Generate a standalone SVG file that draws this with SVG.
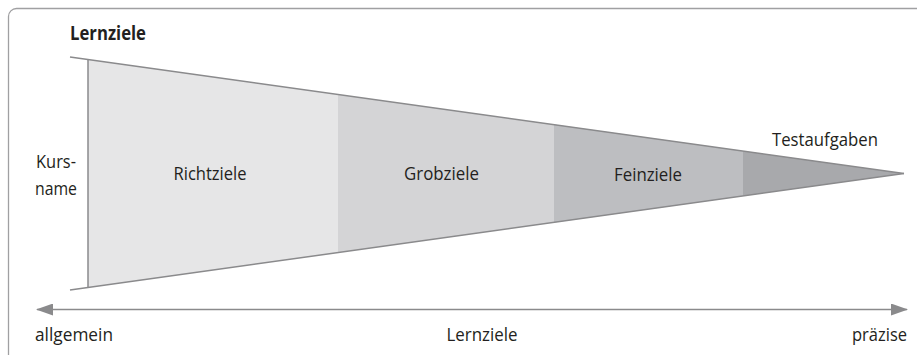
<svg xmlns="http://www.w3.org/2000/svg" width="917" height="355" viewBox="0 0 917 355">
  <style>
    .lbl { font-family: "Open Sans", "Liberation Sans", sans-serif; font-size: 19px; fill: #231f20; }
    .bold { font-weight: bold; }
    .edge { fill: none; stroke: #8a8a8c; stroke-width: 1.5; }
    .frame { fill: none; stroke: #a0a0a2; stroke-width: 1.3; }
  </style>
  <defs>
    <marker id="head" viewBox="0 0 17 12" refX="16" refY="6" markerWidth="17" markerHeight="12" markerUnits="userSpaceOnUse" orient="auto-start-reverse">
      <path d="M0,0 L17,6 L0,12 Z" fill="#8a8a8c"/>
    </marker>
  </defs>

  <rect width="917" height="355" fill="#ffffff"/>
  <!-- outer frame, open to the right and bottom -->
  <rect class="frame" x="8.5" y="8.5" width="930" height="360" rx="8"/>

  <g id="title">
    <text class="lbl bold" x="70" y="40" textLength="76" lengthAdjust="spacingAndGlyphs">Lernziele</text>
  </g>

  <g id="kursname">
    <text class="lbl" x="56" y="168" text-anchor="middle" textLength="40" lengthAdjust="spacingAndGlyphs">Kurs-</text>
    <text class="lbl" x="56" y="195" text-anchor="middle" textLength="42" lengthAdjust="spacingAndGlyphs">name</text>
  </g>

  <!-- funnel segments from general to precise -->
  <g id="richtziele">
    <polygon points="88,59.5 338,94.4 338,252.6 88,287.5" fill="#e6e6e7"/>
    <text class="lbl" x="210" y="180" text-anchor="middle" textLength="73" lengthAdjust="spacingAndGlyphs">Richtziele</text>
  </g>
  <g id="grobziele">
    <polygon points="338,94.4 554,124.6 554,222.4 338,252.6" fill="#d4d4d6"/>
    <text class="lbl" x="441.5" y="180" text-anchor="middle" textLength="75" lengthAdjust="spacingAndGlyphs">Grobziele</text>
  </g>
  <g id="feinziele">
    <polygon points="554,124.6 743,151 743,196 554,222.4" fill="#bdbec1"/>
    <text class="lbl" x="648" y="181" text-anchor="middle" textLength="68" lengthAdjust="spacingAndGlyphs">Feinziele</text>
  </g>
  <g id="testaufgaben">
    <polygon points="743,151 904,173.5 743,196" fill="#a8a9ac"/>
    <text class="lbl" x="825" y="146" text-anchor="middle" textLength="106" lengthAdjust="spacingAndGlyphs">Testaufgaben</text>
  </g>

  <g id="connectors">
    <!-- funnel outline -->
    <line class="edge" x1="70" y1="57" x2="904" y2="173.5"/>
    <line class="edge" x1="70" y1="290" x2="904" y2="173.5"/>
    <line class="edge" x1="88" y1="59.5" x2="88" y2="287.5"/>
    <!-- axis general to precise -->
    <line class="edge" x1="37" y1="309.5" x2="907" y2="309.5" marker-start="url(#head)" marker-end="url(#head)"/>
  </g>

  <g id="axis-labels">
    <text class="lbl" x="35" y="341" textLength="78" lengthAdjust="spacingAndGlyphs">allgemein</text>
    <text class="lbl" x="482" y="341" text-anchor="middle" textLength="71" lengthAdjust="spacingAndGlyphs">Lernziele</text>
    <text class="lbl" x="907" y="341" text-anchor="end" textLength="55" lengthAdjust="spacingAndGlyphs">präzise</text>
  </g>
</svg>
